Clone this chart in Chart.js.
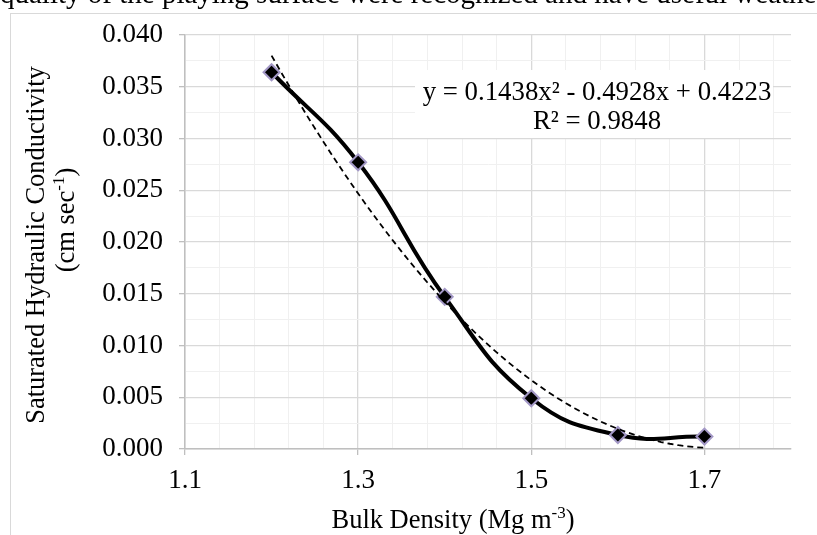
<!DOCTYPE html>
<html><head><meta charset="utf-8">
<script src="https://cdn.jsdelivr.net/npm/chart.js@4/dist/chart.umd.min.js"></script>
<style>
html,body{margin:0;padding:0;background:#fff;overflow:hidden;}
#wrap{position:relative;width:817px;height:535px;overflow:hidden;}
#toptext{position:absolute;left:0;top:-23px;white-space:nowrap;font:29px "Liberation Serif","Times New Roman",serif;color:#000;}
canvas{position:absolute;left:0;top:0;}
</style></head>
<body><div id="wrap"><canvas id="c" width="817" height="535"></canvas><div id="toptext">quality of the playing surface were recognized and have useful weather</div></div>
<script>
const bulkDensity = [1.2, 1.3, 1.4, 1.5, 1.6, 1.7];
const ksat = [0.0364, 0.0277, 0.0147, 0.0049, 0.00135, 0.0012];
const trendCoef = [0.1438, -0.4928, 0.4223];
const trendText = ['y = 0.1438x\u00B2 - 0.4928x + 0.4223', 'R\u00B2 = 0.9848'];
const xTickLabels = ['1.1', '1.3', '1.5', '1.7'];
const yTickLabels = ['0.000', '0.005', '0.010', '0.015', '0.020', '0.025', '0.030', '0.035', '0.040'];
const xTitle = ['Bulk Density (Mg m', '-3', ')'];
const yTitle1 = 'Saturated Hydraulic Conductivity';
const yTitle2 = ['(cm sec', '-1', ')'];

const FONT = '"Liberation Serif", "Times New Roman", serif';
const xMin = 1.1, xMax = 1.8, xMinor = 0.04, xPerMajor = 5;
const yMin = 0, yMax = 0.04, yMinor = 0.0025, yPerMajor = 2;

const mainData = bulkDensity.map((x, i) => ({x: x, y: ksat[i]}));
const trendData = [];
{
  const x0 = bulkDensity[0], x1 = bulkDensity[bulkDensity.length - 1];
  for (let k = 0; k <= 50; k++) {
    const x = x0 + (x1 - x0) * k / 50;
    trendData.push({x: x, y: trendCoef[0] * x * x + trendCoef[1] * x + trendCoef[2]});
  }
}

function drawPieces(ctx, pieces, cx, baseline, size) {
  const small = Math.round(size * 0.65);
  const widths = pieces.map((p, i) => {
    ctx.font = (i === 1 ? small : size) + 'px ' + FONT;
    return ctx.measureText(p).width;
  });
  const total = widths.reduce((a, b) => a + b, 0);
  let x = cx - total / 2;
  ctx.textAlign = 'left';
  ctx.textBaseline = 'alphabetic';
  pieces.forEach((p, i) => {
    ctx.font = (i === 1 ? small : size) + 'px ' + FONT;
    ctx.fillText(p, x, i === 1 ? baseline - size * 0.36 : baseline);
    x += widths[i];
  });
}

const decor = {
  id: 'decor',
  beforeDraw(chart) {
    const ctx = chart.ctx;
    ctx.save();
    ctx.strokeStyle = '#d9d9d9';
    ctx.lineWidth = 1;
    ctx.strokeRect(10.5, 13.5, 1000, 1000);
    ctx.restore();
  },
  afterDraw(chart) {
    const ctx = chart.ctx;
    ctx.save();
    ctx.fillStyle = '#000';
    // x title
    drawPieces(ctx, xTitle, 453, 528, 26.5);
    // y title
    ctx.save();
    ctx.translate(44, 245);
    ctx.rotate(-Math.PI / 2);
    ctx.font = '26.5px ' + FONT;
    ctx.textAlign = 'center';
    ctx.textBaseline = 'alphabetic';
    ctx.fillText(yTitle1, 0, 0);
    ctx.restore();
    ctx.save();
    ctx.translate(74, 220);
    ctx.rotate(-Math.PI / 2);
    drawPieces(ctx, yTitle2, 0, 0, 26.5);
    ctx.restore();
    // trendline label
    ctx.fillStyle = '#fff';
    ctx.fillRect(415, 70, 358, 68);
    ctx.fillStyle = '#000';
    ctx.font = '26.8px ' + FONT;
    ctx.textAlign = 'center';
    ctx.textBaseline = 'alphabetic';
    ctx.fillText(trendText[0], 597, 100);
    ctx.fillText(trendText[1], 597, 129);
    ctx.restore();
  }
};

new Chart(document.getElementById('c'), {
  type: 'scatter',
  data: {
    datasets: [
      {
        label: 'Trend',
        data: trendData,
        showLine: true,
        borderColor: '#000',
        borderWidth: 1.8,
        borderDash: [6, 4],
        pointRadius: 0,
        tension: 0,
        order: 0
      },
      {
        label: 'Ksat',
        data: mainData,
        showLine: true,
        borderColor: '#000',
        borderWidth: 4,
        tension: 0.45,
        pointStyle: 'rectRot',
        pointRadius: 8,
        pointBackgroundColor: '#000',
        pointBorderColor: '#a398c6',
        pointBorderWidth: 2,
        order: 1
      }
    ]
  },
  options: {
    responsive: false,
    animation: false,
    events: [],
    layout: {padding: {top: 35, right: 26, left: 0, bottom: 0}},
    plugins: {legend: {display: false}, tooltip: {enabled: false}},
    scales: {
      x: {
        type: 'linear',
        min: xMin, max: xMax,
        afterBuildTicks(scale) {
          const t = [];
          for (let i = 0; xMin + i * xMinor < xMax - 1e-9; i++) t.push({value: +(xMin + i * xMinor).toFixed(4)});
          scale.ticks = t;
        },
        afterFit(scale) { scale.height = 86; },
        ticks: {
          autoSkip: false, maxRotation: 0, padding: 10, color: '#000',
          font: {family: FONT, size: 27},
          callback: (v, i) => (i % xPerMajor === 0 ? xTickLabels[i / xPerMajor] : '')
        },
        grid: {
          color: c => (c.index % xPerMajor === 0 ? '#d9d9d9' : '#f0f0f0'),
          lineWidth: c => (c.index % xPerMajor === 0 ? 1.3 : 1),
          tickColor: c => (c.index % xPerMajor === 0 ? '#bfbfbf' : 'rgba(0,0,0,0)'),
          tickLength: 6
        },
        border: {display: true, color: '#bfbfbf', width: 1.5}
      },
      y: {
        type: 'linear',
        min: yMin, max: yMax,
        afterBuildTicks(scale) {
          const t = [];
          for (let i = 0; yMin + i * yMinor <= yMax + 1e-9; i++) t.push({value: +(yMin + i * yMinor).toFixed(5)});
          scale.ticks = t;
        },
        afterFit(scale) { scale.width = 185; },
        ticks: {
          autoSkip: false, padding: 16, color: '#000',
          font: {family: FONT, size: 27},
          callback: (v, i) => (i % yPerMajor === 0 ? yTickLabels[i / yPerMajor] : '')
        },
        grid: {
          color: c => (c.index % yPerMajor === 0 ? '#d9d9d9' : '#f0f0f0'),
          lineWidth: c => (c.index % yPerMajor === 0 ? 1.3 : 1),
          tickColor: c => (c.index % yPerMajor === 0 ? '#bfbfbf' : 'rgba(0,0,0,0)'),
          tickLength: 6
        },
        border: {display: true, color: '#bfbfbf', width: 1.5}
      }
    }
  },
  plugins: [decor]
});
</script>
</body></html>
